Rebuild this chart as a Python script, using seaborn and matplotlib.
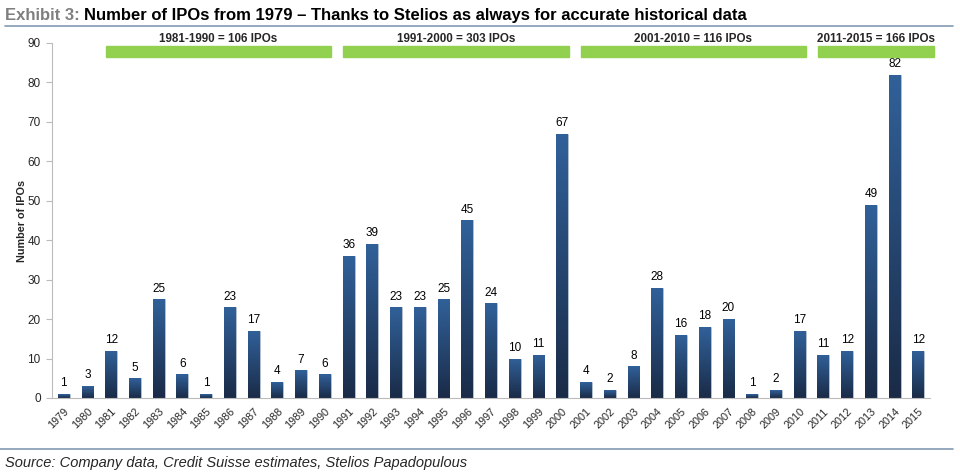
import numpy as np
import pandas as pd
import matplotlib
matplotlib.use("Agg")
import matplotlib.pyplot as plt
from matplotlib.colors import LinearSegmentedColormap
import seaborn as sns

years = [str(y) for y in range(1979, 2016)]
ipos = [1, 3, 12, 5, 25, 6, 1, 23, 17, 4, 7, 6,
        36, 39, 23, 23, 25, 45, 24, 10, 11, 67,
        4, 2, 8, 28, 16, 18, 20, 1, 2, 17,
        11, 12, 49, 82, 12]
period_labels = ["1981-1990 = 106 IPOs", "1991-2000 = 303 IPOs",
                 "2001-2010 = 116 IPOs", "2011-2015 = 166 IPOs"]
period_start = ["1981", "1991", "2001", "2011"]
period_end = ["1990", "2000", "2010", "2015"]

df = pd.DataFrame({"Year": years, "IPOs": ipos})

sns.set_style("white")
plt.rcParams["font.family"] = ["Liberation Sans", "DejaVu Sans"]

fig = plt.figure(figsize=(9.6, 4.73), dpi=100)
ax = fig.add_axes([0.054, 0.1586, 0.915, 0.7505])

sns.barplot(data=df, x="Year", y="IPOs", color="#264a75", width=0.5,
            saturation=1, ax=ax)

# vertical gradient on each bar (light top, dark bottom)
cmap = LinearSegmentedColormap.from_list("bar", ["#1a2b47", "#31619a"])
grad = np.linspace(0, 1, 256).reshape(-1, 1)
for p in ax.patches:
    x0, y0 = p.get_x(), p.get_y()
    w, h = p.get_width(), p.get_height()
    p.set_edgecolor("#c9d3e0")
    p.set_linewidth(0.4)
    im = ax.imshow(grad, cmap=cmap, origin="lower", aspect="auto",
                   extent=[x0, x0 + w, y0, y0 + h], zorder=p.get_zorder() + 0.1)
    im.set_clip_path(p)

for i, v in enumerate(ipos):
    ax.text(i, v + 1.2, str(v), ha="center", va="bottom", fontsize=8.5,
            color="black")

ax.set_xlim(-0.5, len(years) - 0.5)
ax.set_ylim(0, 90)
ax.set_yticks(range(0, 91, 10))
ax.tick_params(axis="y", labelsize=8.5, length=4, color="#bbbbbb", left=True,
               pad=4)
ax.set_xticks(range(len(years)))
ax.set_xticklabels(years, rotation=45, ha="right", rotation_mode="anchor",
                   fontsize=7.8)
ax.tick_params(axis="x", length=0, pad=6)
ax.set_xticks(np.arange(-0.5, len(years)), minor=True)
ax.tick_params(axis="x", which="minor", length=4, color="#bbbbbb")
ax.set_xlabel("")
ax.set_ylabel("Number of IPOs", fontsize=7.8, fontweight="bold", labelpad=0)
for s in ["top", "right"]:
    ax.spines[s].set_visible(False)
for s in ["left", "bottom"]:
    ax.spines[s].set_color("#bbbbbb")
    ax.spines[s].set_linewidth(0.8)

# green period banners
pos = {y: i for i, y in enumerate(years)}
for lab, s, e in zip(period_labels, period_start, period_end):
    a = pos[s] - 0.22
    b = pos[e] + 0.27 if e != "2015" else pos[e] + 0.67
    ax.add_patch(plt.Rectangle((a, 86.45), b - a, 2.8, color="#92d050",
                               clip_on=False, zorder=3))
    ax.text((a + b) / 2, 89.5, lab, ha="center", va="bottom", fontsize=8.4,
            fontweight="bold", clip_on=False)

# title in two colours
t1 = fig.text(0.005, 0.968, "Exhibit 3:", fontsize=12, fontweight="bold",
              color="#7f7f7f", va="center")
fig.canvas.draw()
bb = t1.get_window_extent()
x2 = (bb.x1 + 4) / fig.bbox.width
fig.text(x2, 0.968, "Number of IPOs from 1979 \u2013 Thanks to Stelios as always for accurate historical data",
         fontsize=12, fontweight="bold", color="black", va="center")

fig.add_artist(plt.Line2D([0.005, 0.993], [0.946, 0.946], color="#8499b3",
                          linewidth=1.2))
fig.add_artist(plt.Line2D([0.0, 0.993], [0.051, 0.051], color="#8499b3",
                          linewidth=1.2))
fig.text(0.005, 0.021, "Source: Company data, Credit Suisse estimates, Stelios Papadopulous",
         fontsize=10.5, style="italic", va="center")

fig.savefig("out.png", dpi=100)
